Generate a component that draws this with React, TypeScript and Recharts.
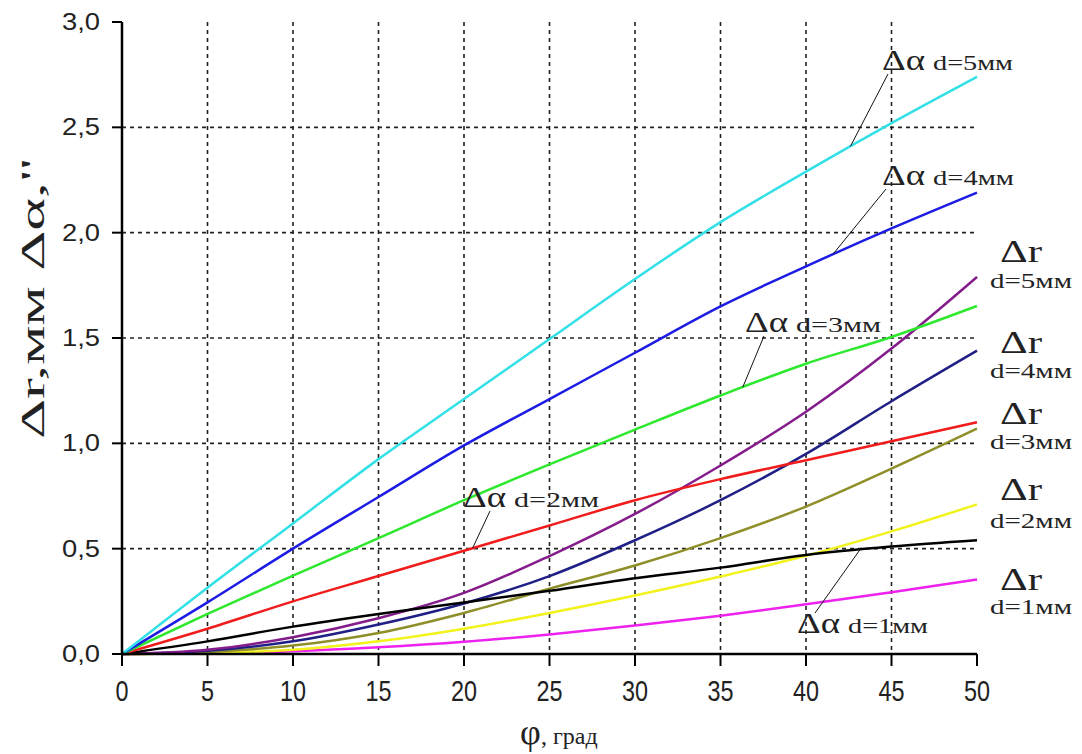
import React from "react";
import { LineChart, Line, XAxis, YAxis, CartesianGrid } from "recharts";

// φ, град
const phi = [0, 5, 10, 15, 20, 25, 30, 35, 40, 45, 50];

// Δα curves
const da5 = [0, 0.315, 0.62, 0.925, 1.21, 1.495, 1.78, 2.05, 2.29, 2.52, 2.74];
const da4 = [0, 0.245, 0.5, 0.745, 0.99, 1.21, 1.43, 1.65, 1.84, 2.02, 2.19];
const da3 = [0, 0.19, 0.372, 0.55, 0.73, 0.9, 1.065, 1.227, 1.378, 1.505, 1.652];
const da2 = [0, 0.12, 0.25, 0.37, 0.49, 0.61, 0.73, 0.83, 0.92, 1.01, 1.1];
const da1 = [0, 0.06, 0.13, 0.19, 0.245, 0.3, 0.36, 0.41, 0.47, 0.51, 0.54];

// Δr curves
const dr5 = [0, 0.02, 0.08, 0.17, 0.29, 0.465, 0.665, 0.895, 1.15, 1.45, 1.79];
const dr4 = [0, 0.015, 0.06, 0.14, 0.24, 0.37, 0.54, 0.73, 0.95, 1.2, 1.44];
const dr3 = [0, 0.01, 0.04, 0.1, 0.195, 0.31, 0.42, 0.55, 0.7, 0.88, 1.07];
const dr2 = [0, 0.005, 0.02, 0.06, 0.12, 0.195, 0.278, 0.368, 0.466, 0.582, 0.71];
const dr1 = [0, 0.003, 0.013, 0.032, 0.058, 0.093, 0.135, 0.182, 0.236, 0.293, 0.354];

const xTicks = [0, 5, 10, 15, 20, 25, 30, 35, 40, 45, 50];
const yTicks = [0, 0.5, 1, 1.5, 2, 2.5, 3];
const xGrid = [5, 10, 15, 20, 25, 30, 35, 40, 45];
const yGrid = [0.5, 1, 1.5, 2, 2.5];

const data = phi.map((p, i) => ({
  phi: p,
  da5: da5[i], da4: da4[i], da3: da3[i], da2: da2[i], da1: da1[i],
  dr5: dr5[i], dr4: dr4[i], dr3: dr3[i], dr2: dr2[i], dr1: dr1[i],
}));

const series = [
  { key: "dr1", color: "#ee22ee" },
  { key: "dr2", color: "#f2f21c" },
  { key: "dr3", color: "#8f8f2a" },
  { key: "dr4", color: "#1f1f86" },
  { key: "dr5", color: "#851c8c" },
  { key: "da1", color: "#000000" },
  { key: "da2", color: "#f01c1c" },
  { key: "da3", color: "#2ee82e" },
  { key: "da4", color: "#1c1ce4" },
  { key: "da5", color: "#33e0e6" },
];

const W = 1082;
const H = 754;
const LEFT = 122, TOP = 22, RIGHT = 105, BOTTOM = 100;
const px = (x: number) => LEFT + (x / 50) * (W - LEFT - RIGHT);
const py = (y: number) => TOP + ((3 - y) / 3) * (H - TOP - BOTTOM);

const serif = "'Liberation Serif', 'Times New Roman', serif";
const sans = "'Liberation Sans', Arial, sans-serif";

// Δα annotations: text position (px) and where the leader meets the curve (data)
const alphaLabels = [
  { d: "5", x: 882, y: 70, len: 80, from: [888, 74], to: [42.6, 2.41] },
  { d: "4", x: 882, y: 185, len: 81, from: [886, 189], to: [41.6, 1.9] },
  { d: "3", x: 745, y: 332, len: 85, from: [764, 336], to: [36.3, 1.266] },
  { d: "2", x: 463, y: 507, len: 85, from: [490, 511], to: [20.5, 0.502] },
  { d: "1", x: 797, y: 633, len: 80, from: [815, 613], to: [43.2, 0.5] },
];

const rLabels = [
  { d: "5", y1: 262, y2: 288 },
  { d: "4", y1: 353, y2: 378 },
  { d: "3", y1: 424, y2: 449 },
  { d: "2", y1: 500, y2: 528 },
  { d: "1", y1: 590, y2: 614 },
];

const fmtY = (v: number) => v.toFixed(1).replace(".", ",");

const XTick = (props: any) => {
  const label = String(props.payload.value);
  return (
    <text
      x={props.x}
      y={props.y + 22}
      textAnchor="middle"
      fontFamily={sans}
      fontSize={30}
      fill="#222"
      textLength={label.length * 13}
      lengthAdjust="spacingAndGlyphs"
    >
      {label}
    </text>
  );
};

const YTick = (props: any) => (
  <text
    x={props.x}
    y={props.y + 8}
    textAnchor="end"
    fontFamily={sans}
    fontSize={23}
    fill="#222"
    textLength={38}
    lengthAdjust="spacingAndGlyphs"
  >
    {fmtY(props.payload.value)}
  </text>
);

export default function App() {
  return (
    <div style={{ position: "absolute", left: 0, top: 0, width: W, height: H, background: "#fff" }}>
      <LineChart width={W} height={H} data={data} margin={{ top: TOP, right: RIGHT, bottom: 0, left: 0 }}>
        <CartesianGrid
          horizontalValues={yGrid}
          verticalValues={xGrid}
          stroke="#222"
          strokeWidth={1.6}
          strokeDasharray="4 4"
        />
        <XAxis
          type="number"
          dataKey="phi"
          domain={[0, 50]}
          ticks={xTicks}
          interval={0}
          height={BOTTOM}
          axisLine={{ stroke: "#000", strokeWidth: 2.5 }}
          tickLine={{ stroke: "#000", strokeWidth: 2 }}
          tickSize={12}
          tickMargin={13}
          tick={<XTick />}
        />
        <YAxis
          type="number"
          domain={[0, 3]}
          ticks={yTicks}
          interval={0}
          width={LEFT}
          axisLine={{ stroke: "#000", strokeWidth: 2.5 }}
          tickLine={{ stroke: "#000", strokeWidth: 2 }}
          tickSize={10}
          tickMargin={12}
          tick={<YTick />}
        />
        {series.map((s) => (
          <Line
            key={s.key}
            type="monotone"
            dataKey={s.key}
            stroke={s.color}
            strokeWidth={2.5}
            dot={false}
            activeDot={false}
            isAnimationActive={false}
          />
        ))}
      </LineChart>

      <svg
        width={W}
        height={H}
        style={{ position: "absolute", left: 0, top: 0, pointerEvents: "none" }}
      >
        {alphaLabels.map((a) => (
          <g key={a.d}>
            <line
              x1={a.from[0]}
              y1={a.from[1]}
              x2={px(a.to[0])}
              y2={py(a.to[1])}
              stroke="#111"
              strokeWidth={1}
            />
            <text
              x={a.x}
              y={a.y}
              fontFamily={serif}
              fontSize={30}
              fill="#222"
              textLength={43}
              lengthAdjust="spacingAndGlyphs"
            >
              Δα
            </text>
            <text
              x={a.x + 51}
              y={a.y}
              fontFamily={serif}
              fontSize={22}
              fill="#222"
              textLength={a.len}
              lengthAdjust="spacingAndGlyphs"
            >
              {`d=${a.d}мм`}
            </text>
          </g>
        ))}
        {rLabels.map((r) => (
          <g key={r.d}>
            <text
              x={1000}
              y={r.y1}
              fontFamily={serif}
              fontSize={32}
              fill="#222"
              textLength={42}
              lengthAdjust="spacingAndGlyphs"
            >
              Δr
            </text>
            <text
              x={990}
              y={r.y2}
              fontFamily={serif}
              fontSize={22}
              fill="#222"
              textLength={82}
              lengthAdjust="spacingAndGlyphs"
            >
              {`d=${r.d}мм`}
            </text>
          </g>
        ))}
        <text
          transform="translate(44, 298) rotate(-90)"
          textAnchor="middle"
          fontFamily={serif}
          fontSize={34}
          fill="#222"
          textLength={282}
          lengthAdjust="spacingAndGlyphs"
        >
          {"Δr,мм Δα,\""}
        </text>
        <text x={520} y={744} fontFamily={serif} fontSize={36} fill="#222">
          φ
        </text>
        <text x={541} y={744} fontFamily={serif} fontSize={24} fill="#222">
          , град
        </text>
      </svg>
    </div>
  );
}
